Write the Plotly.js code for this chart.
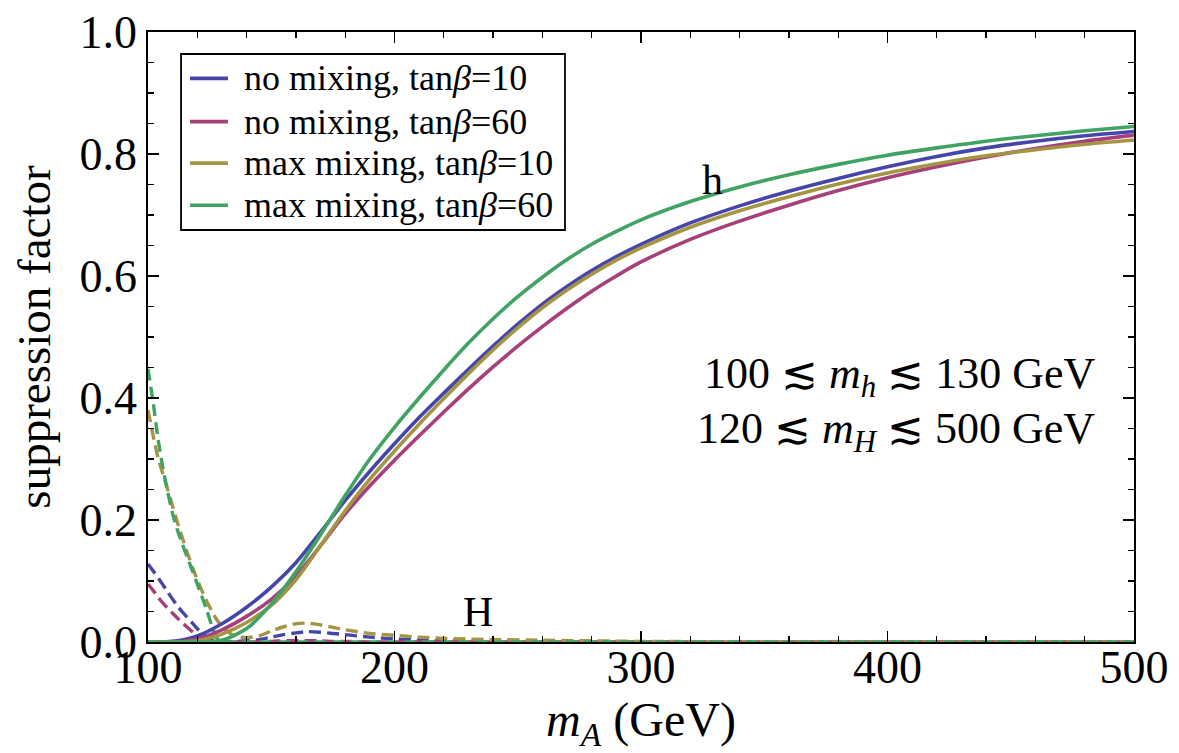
<!DOCTYPE html>
<html>
<head>
<meta charset="utf-8">
<script src="https://cdn.plot.ly/plotly-3.0.1.min.js"></script>
<style>
  html, body { margin: 0; padding: 0; background: #ffffff; }
  #chart { width: 1179px; height: 753px; }
</style>
</head>
<body>
<div id="chart"></div>
<script>
// CP-odd mass grid for the light Higgs (h) suppression curves
const mA = [100,110,120,130,140,150,160,170,180,190,200,210,220,230,240,250,260,270,280,290,300,320,340,360,380,400,420,440,460,480,500];

// h suppression factor, solid lines
const hNoMix10  = [0,0.001,0.01,0.03,0.057,0.09,0.13,0.18,0.232,0.28,0.325,0.368,0.408,0.447,0.485,0.521,0.554,0.583,0.609,0.632,0.652,0.687,0.715,0.739,0.76,0.779,0.796,0.81,0.821,0.83,0.837];
const hNoMix60  = [0,0,0.005,0.02,0.042,0.07,0.108,0.158,0.21,0.256,0.298,0.338,0.377,0.415,0.451,0.485,0.517,0.547,0.575,0.6,0.623,0.66,0.69,0.716,0.74,0.761,0.779,0.795,0.809,0.821,0.831];
const hMaxMix10 = [0,0,0.002,0.013,0.032,0.06,0.102,0.158,0.215,0.267,0.313,0.357,0.399,0.44,0.479,0.515,0.548,0.577,0.603,0.626,0.646,0.68,0.707,0.73,0.751,0.769,0.784,0.797,0.807,0.816,0.823];
const hMaxMix60 = [0,0,0,0.003,0.022,0.062,0.115,0.176,0.24,0.3,0.352,0.4,0.446,0.49,0.53,0.566,0.598,0.627,0.652,0.673,0.692,0.722,0.746,0.766,0.783,0.798,0.81,0.821,0.83,0.838,0.845];

// Finer grid for the heavy Higgs (H) suppression curves, dashed lines
const mAH = [100,102,104,106,108,110,112,114,116,118,120,122,124,126,128,130,133,136,140,145,150,155,160,165,170,175,180,190,200,210,220,240,260,300,400,500];
const HNoMix10  = [0.128,0.117,0.106,0.094,0.082,0.07,0.059,0.049,0.04,0.031,0.022,0.014,0.008,0.004,0.002,0.001,0.001,0.001,0.002,0.004,0.008,0.012,0.015,0.017,0.016,0.014,0.012,0.008,0.005,0.003,0.002,0.001,0,0,0,0];
const HNoMix60  = [0.095,0.085,0.074,0.064,0.055,0.047,0.039,0.031,0.024,0.017,0.011,0.006,0.003,0.001,0,0,0,0,0,0,0.001,0.002,0.002,0.002,0.002,0.001,0.001,0,0,0,0,0,0,0,0,0];
const HMaxMix10 = [0.38,0.34,0.303,0.276,0.25,0.222,0.195,0.17,0.146,0.123,0.102,0.083,0.065,0.05,0.036,0.025,0.015,0.009,0.007,0.01,0.018,0.025,0.03,0.031,0.028,0.024,0.02,0.014,0.011,0.008,0.006,0.004,0.003,0.001,0,0];
const HMaxMix60 = [0.448,0.395,0.335,0.286,0.246,0.21,0.183,0.16,0.138,0.117,0.095,0.073,0.05,0.025,0.006,0,0,0,0,0,0,0,0,0,0,0,0,0,0,0,0,0,0,0,0,0];

const seriesNames = ['no mixing, tan<i>β</i>=10', 'no mixing, tan<i>β</i>=60', 'max mixing, tan<i>β</i>=10', 'max mixing, tan<i>β</i>=60'];
const colors = ['#4646a8', '#a6407b', '#a49443', '#41a361'];

const serif = 'Liberation Serif, Times New Roman, serif';

const hSets = [hNoMix10, hNoMix60, hMaxMix10, hMaxMix60];
const HSets = [HNoMix10, HNoMix60, HMaxMix10, HMaxMix60];

const traces = [];
HSets.forEach((ys, i) => {
  traces.push({
    x: mAH, y: ys, type: 'scatter', mode: 'lines', name: 'H: ' + seriesNames[i],
    hoverinfo: 'skip',
    line: { color: colors[i], width: 3.4, dash: '12px,6px', shape: 'spline', smoothing: 0.6 }
  });
});
hSets.forEach((ys, i) => {
  traces.push({
    x: mA, y: ys, type: 'scatter', mode: 'lines', name: 'h: ' + seriesNames[i],
    line: { color: colors[i], width: 3.6, shape: 'spline', smoothing: 0.8 }
  });
});

const axisCommon = {
  showgrid: false, zeroline: false,
  showline: true, linecolor: '#000', linewidth: 1.8, mirror: 'ticks',
  ticks: 'inside', ticklen: 11, tickwidth: 1.6, tickcolor: '#000',
  tickfont: { family: serif, size: 46, color: '#000' }
};

// Legend box drawn in paper coordinates: frame, line samples and labels
const legendBox = { x0: 0.0335, x1: 0.4229, y0: 0.6754, y1: 0.9639 };
const legendRows = [0.924, 0.853, 0.785, 0.716];
const shapes = [{
  type: 'rect', xref: 'paper', yref: 'paper',
  x0: legendBox.x0, x1: legendBox.x1, y0: legendBox.y0, y1: legendBox.y1,
  line: { color: '#000', width: 1.8 }, fillcolor: '#fff', layer: 'below'
}];
const legendText = [];
legendRows.forEach((yy, i) => {
  shapes.push({
    type: 'line', xref: 'paper', yref: 'paper',
    x0: 0.0426, x1: 0.0811, y0: yy, y1: yy,
    line: { color: colors[i], width: 3.6 }
  });
  legendText.push({
    x: 0.0953, y: yy, xref: 'paper', yref: 'paper', xanchor: 'left', yanchor: 'middle',
    text: seriesNames[i], showarrow: false,
    font: { family: serif, size: 36, color: '#000' }
  });
});

const layout = {
  width: 1179, height: 753,
  margin: { l: 148, r: 45, t: 32, b: 111 },
  paper_bgcolor: '#fff', plot_bgcolor: '#fff',
  font: { family: serif, color: '#000' },
  showlegend: false,
  xaxis: Object.assign({}, axisCommon, {
    range: [100, 500], dtick: 100, tick0: 100, ticklabelstandoff: -16,
    minor: { dtick: 20, ticks: 'inside', ticklen: 6, tickwidth: 1.4, tickcolor: '#000', showgrid: false },
    title: { text: '<i>m</i><sub><i>A</i></sub> (GeV)', font: { family: serif, size: 48 }, standoff: 40 }
  }),
  yaxis: Object.assign({}, axisCommon, {
    range: [0, 1], dtick: 0.2, tick0: 0, tickformat: '.1f',
    minor: { dtick: 0.05, ticks: 'inside', ticklen: 6, tickwidth: 1.4, tickcolor: '#000', showgrid: false },
    title: { text: 'suppression factor', font: { family: serif, size: 47 }, standoff: 14 }
  }),
  shapes: shapes,
  annotations: legendText.concat([
    { x: 329, y: 0.757, xref: 'x', yref: 'y', text: 'h', showarrow: false,
      font: { family: serif, size: 42, color: '#000' } },
    { x: 234, y: 0.05, xref: 'x', yref: 'y', text: 'H', showarrow: false,
      font: { family: serif, size: 42, color: '#000' } },
    { x: 485, y: 0.436, xref: 'x', yref: 'y', xanchor: 'right', showarrow: false,
      text: '100 ≲ <i>m</i><sub><i>h</i></sub> ≲ 130 GeV',
      font: { family: serif, size: 44, color: '#000' } },
    { x: 485, y: 0.345, xref: 'x', yref: 'y', xanchor: 'right', showarrow: false,
      text: '120 ≲ <i>m</i><sub><i>H</i></sub> ≲ 500 GeV',
      font: { family: serif, size: 44, color: '#000' } }
  ])
};

Plotly.newPlot('chart', traces, layout, { displayModeBar: false, staticPlot: true });
</script>
</body>
</html>
